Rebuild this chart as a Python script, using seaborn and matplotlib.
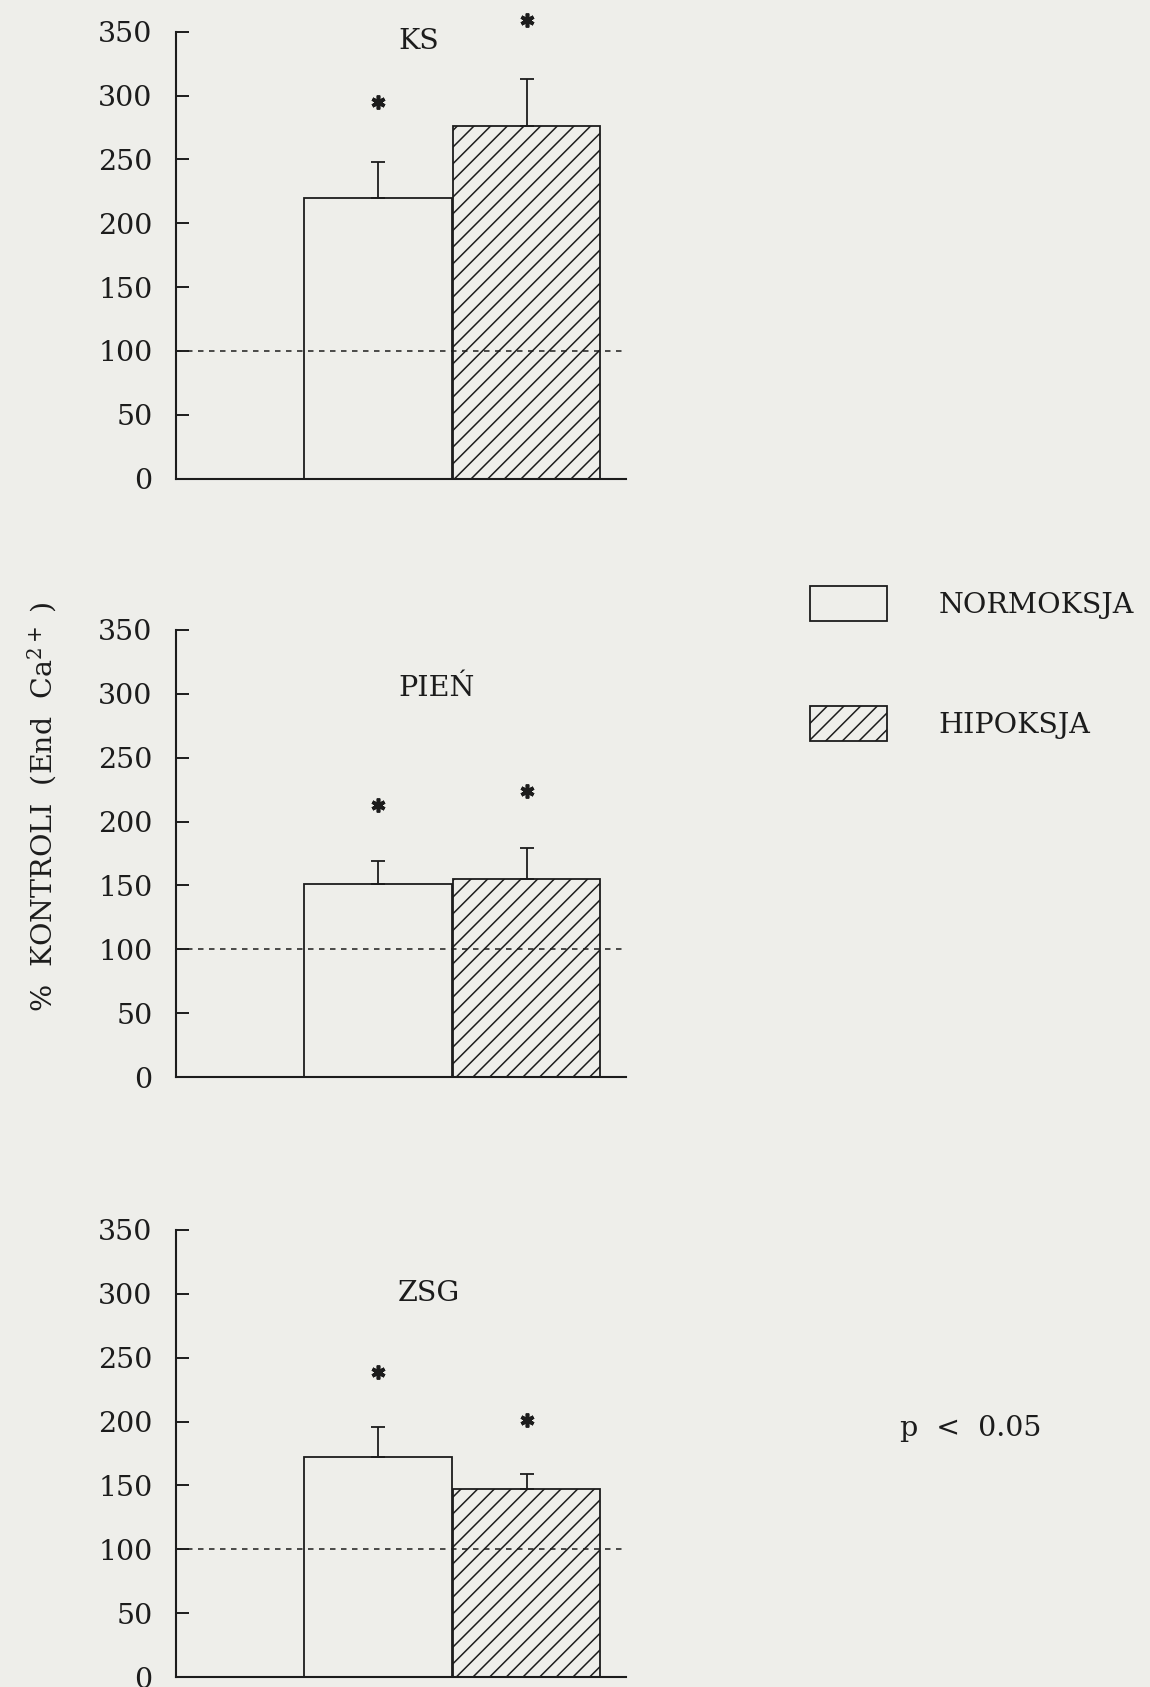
import matplotlib
matplotlib.use("Agg")
import matplotlib.pyplot as plt
import seaborn as sns
import pandas as pd

# ---- data ----
regions = ["KS", "PIEŃ", "ZSG"]
conditions = ["NORMOKSJA", "HIPOKSJA"]
means_ks = [220, 276]
sem_ks = [28, 37]
means_pien = [151, 155]
sem_pien = [18, 24]
means_zsg = [172, 147]
sem_zsg = [24, 12]
stars_ks = [295, 359]
stars_pien = [213, 224]
stars_zsg = [239, 201]
title_y = [342, 304, 300]
yticks = [0, 50, 100, 150, 200, 250, 300, 350]
control_level = 100
ylabel = "%  KONTROLI  (End  Ca$^{2+}$ )"
note = "p  <  0.05"

means = [means_ks, means_pien, means_zsg]
sems = [sem_ks, sem_pien, sem_zsg]
stars = [stars_ks, stars_pien, stars_zsg]

# ---- style ----
sns.set_theme(style="ticks")
bg = "#eeeeea"
ink = "#1c1c1c"
plt.rcParams["font.family"] = ["DejaVu Serif"]
plt.rcParams["mathtext.fontset"] = "dejavuserif"
plt.rcParams["hatch.linewidth"] = 1.1
plt.rcParams["hatch.color"] = ink
plt.rcParams["text.color"] = ink
FS = 20.5

W, H = 1150, 1687
fig = plt.figure(figsize=(W / 100, H / 100), dpi=100, facecolor=bg)

ax_left_px, ax_right_px = 176, 626
panel_tops = [31.7, 630, 1230]
panel_h = 447
xlim = (-1.358, 1.668)
dash_end = 1.641

bar_handles = None
for i, region in enumerate(regions):
    top = panel_tops[i]
    ax = fig.add_axes([ax_left_px / W, 1 - (top + panel_h) / H,
                       (ax_right_px - ax_left_px) / W, panel_h / H])
    ax.set_facecolor("none")
    df = pd.DataFrame({"condition": conditions, "value": means[i]})
    sns.barplot(data=df, x="condition", y="value", order=conditions,
                width=0.99, errorbar=None, color="white",
                edgecolor=ink, linewidth=1.3, ax=ax, zorder=2)
    for j, p in enumerate(ax.patches):
        p.set_facecolor("none")
        p.set_edgecolor(ink)
        if j == 1:
            p.set_hatch("//")
    if bar_handles is None:
        bar_handles = list(ax.patches[:2])
    ax.errorbar(x=[0, 1], y=means[i], yerr=[[0, 0], sems[i]], fmt="none",
                ecolor=ink, elinewidth=1.3, capsize=5.0, capthick=1.3, zorder=1)
    ax.hlines(control_level, xlim[0], dash_end, colors=ink, linewidth=1.1,
              linestyles=(0, (3.6, 3.6)), zorder=3)
    ax.plot([0, 1], stars[i], ls="none", marker=(6, 2, 0), ms=10, mew=2.6,
            color=ink, clip_on=False, zorder=4)
    ax.text(0.135, title_y[i], region, ha="left", va="center", fontsize=FS)

    ax.set_xlim(*xlim)
    ax.set_ylim(0, 350)
    ax.set_yticks(yticks)
    ax.set_yticklabels([str(t) for t in yticks], fontsize=FS)
    ax.set_xticks([])
    ax.set_xlabel("")
    ax.set_ylabel("")
    for s in ["top", "right"]:
        ax.spines[s].set_visible(False)
    for s in ["left", "bottom"]:
        ax.spines[s].set_linewidth(1.5)
        ax.spines[s].set_color(ink)
    ax.tick_params(axis="y", direction="in", length=9.4, width=1.4,
                   pad=17, colors=ink, labelcolor=ink)

fig.text(42 / W, 1 - 807 / H, ylabel, rotation=90, ha="center", va="center",
         fontsize=FS)

fig.legend(handles=bar_handles, labels=conditions, loc="upper left",
           bbox_to_anchor=(810 / W, 1 - 586 / H), frameon=False,
           borderpad=0, borderaxespad=0, handlelength=2.7, handleheight=1.5,
           handletextpad=1.8, labelspacing=3.0, fontsize=FS)

fig.text(900 / W, 1 - 1428 / H, note, ha="left", va="center", fontsize=FS)

fig.savefig("out.png", dpi=100, facecolor=bg)
